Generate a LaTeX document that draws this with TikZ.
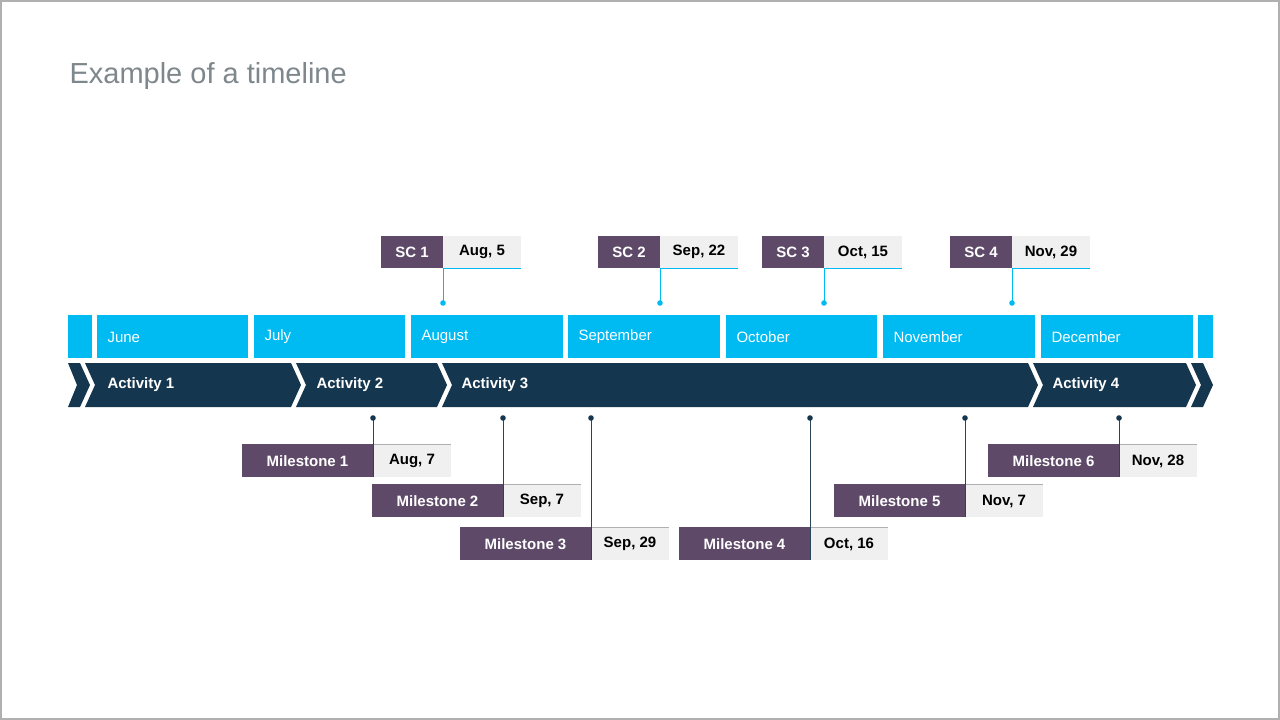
\documentclass[tikz,border=0pt]{standalone}
\usepackage{fontspec}
\setmainfont{Liberation Sans}
\begin{document}
\begin{tikzpicture}[x=1pt,y=-1pt,
  month/.style={fill=cyanc,draw=none},
  mtext/.style={anchor=west,text=white,font=\fontsize{15}{15}\selectfont},
  atext/.style={anchor=west,text=white,font=\bfseries\fontsize{15}{15}\selectfont},
  ptext/.style={text=white,font=\bfseries\fontsize{15}{15}\selectfont},
  gtext/.style={text=black,font=\bfseries\fontsize{15}{15}\selectfont},
  chev/.style={fill=navy,draw=none}]
\definecolor{cyanc}{HTML}{00BAF2}
\definecolor{navy}{HTML}{15364F}
\definecolor{purp}{HTML}{5E4A68}
\definecolor{lgray}{HTML}{F0F0F0}
\definecolor{tgray}{HTML}{7D878C}
\definecolor{lgline}{HTML}{B0B0B0}
\useasboundingbox (0,0) rectangle (1280,720);
\draw[lgline,line width=1.5] (1,1) rectangle (1279,719);
\node[anchor=west,text=tgray,font=\fontsize{29}{29}\selectfont] (title) at (66,76) {Example of a timeline};
% months
\fill[month] (68,315) rectangle (92,358);
\foreach \a/\b/\t in {97/248/June,254/405/July,411/563/August,568/720/September,726/877/October,883/1035/November,1041/1193/December}{
  \fill[month] (\a,315) rectangle (\b,358);
  \node[mtext] at (\a+7,337) {\t};
}
\fill[month] (1198,315) rectangle (1213,358);
% chevrons
\fill[chev] (68,363) -- (80,363) -- (90,385) -- (80,407) -- (68,407) -- (77,385) -- cycle;
\foreach \a/\b in {85/291,296/437,442/1028,1033/1186}{
  \fill[chev] (\a,363) -- (\b,363) -- (\b+10,385) -- (\b,407) -- (\a,407) -- (\a+10,385) -- cycle;
}
\fill[chev] (1191,363) -- (1203,363) -- (1213,385) -- (1203,407) -- (1191,407) -- (1201,385) -- cycle;
\node[atext] (a1) at (104,385) {Activity 1};
\node[atext] (a2) at (313,385) {Activity 2};
\node[atext] (a3) at (458,385) {Activity 3};
\node[atext] (a4) at (1049,385) {Activity 4};
% SC labels
\foreach \n/\x/\d in {1/381/{Aug, 5},2/598/{Sep, 22},3/762/{Oct, 15},4/950/{Nov, 29}}{
  \fill[purp] (\x,236) rectangle (\x+62,268);
  \fill[lgray] (\x+62,236) rectangle (\x+140,268);
  \node[ptext] (sc\n) at (\x+31,252) {SC \n};
  \node[gtext] (scd\n) at (\x+101,252) {\d};
  \draw[cyanc,line width=0.8] (\x+62,268) -- (\x+140,268);
  \coordinate (scdot\n) at (\x+62,303);
  \draw[cyanc,line width=0.8] (\x+62,268) -- (scdot\n);
  \fill[cyanc] (scdot\n) circle (2.8);
}
% milestones
\foreach \n/\x/\y/\d in {1/242/444/{Aug, 7},2/372/484/{Sep, 7},3/460/527/{Sep, 29},4/679/527/{Oct, 16},5/834/484/{Nov, 7},6/988/444/{Nov, 28}}{
  \fill[purp] (\x,\y) rectangle (\x+131,\y+33);
  \fill[lgray] (\x+131,\y) rectangle (\x+209,\y+33);
  \node[ptext] (m\n) at (\x+65.5,\y+17) {Milestone \n};
  \node[gtext] (md\n) at (\x+170,\y+17) {\d};
  \draw[lgline,line width=0.8] (\x+131,\y) -- (\x+209,\y);
  \coordinate (mdot\n) at (\x+131,418);
  \draw[navy!80!gray,line width=0.8] (mdot\n) -- (\x+131,\y+33);
  \fill[navy] (mdot\n) circle (2.8);
}
\end{tikzpicture}
\end{document}
